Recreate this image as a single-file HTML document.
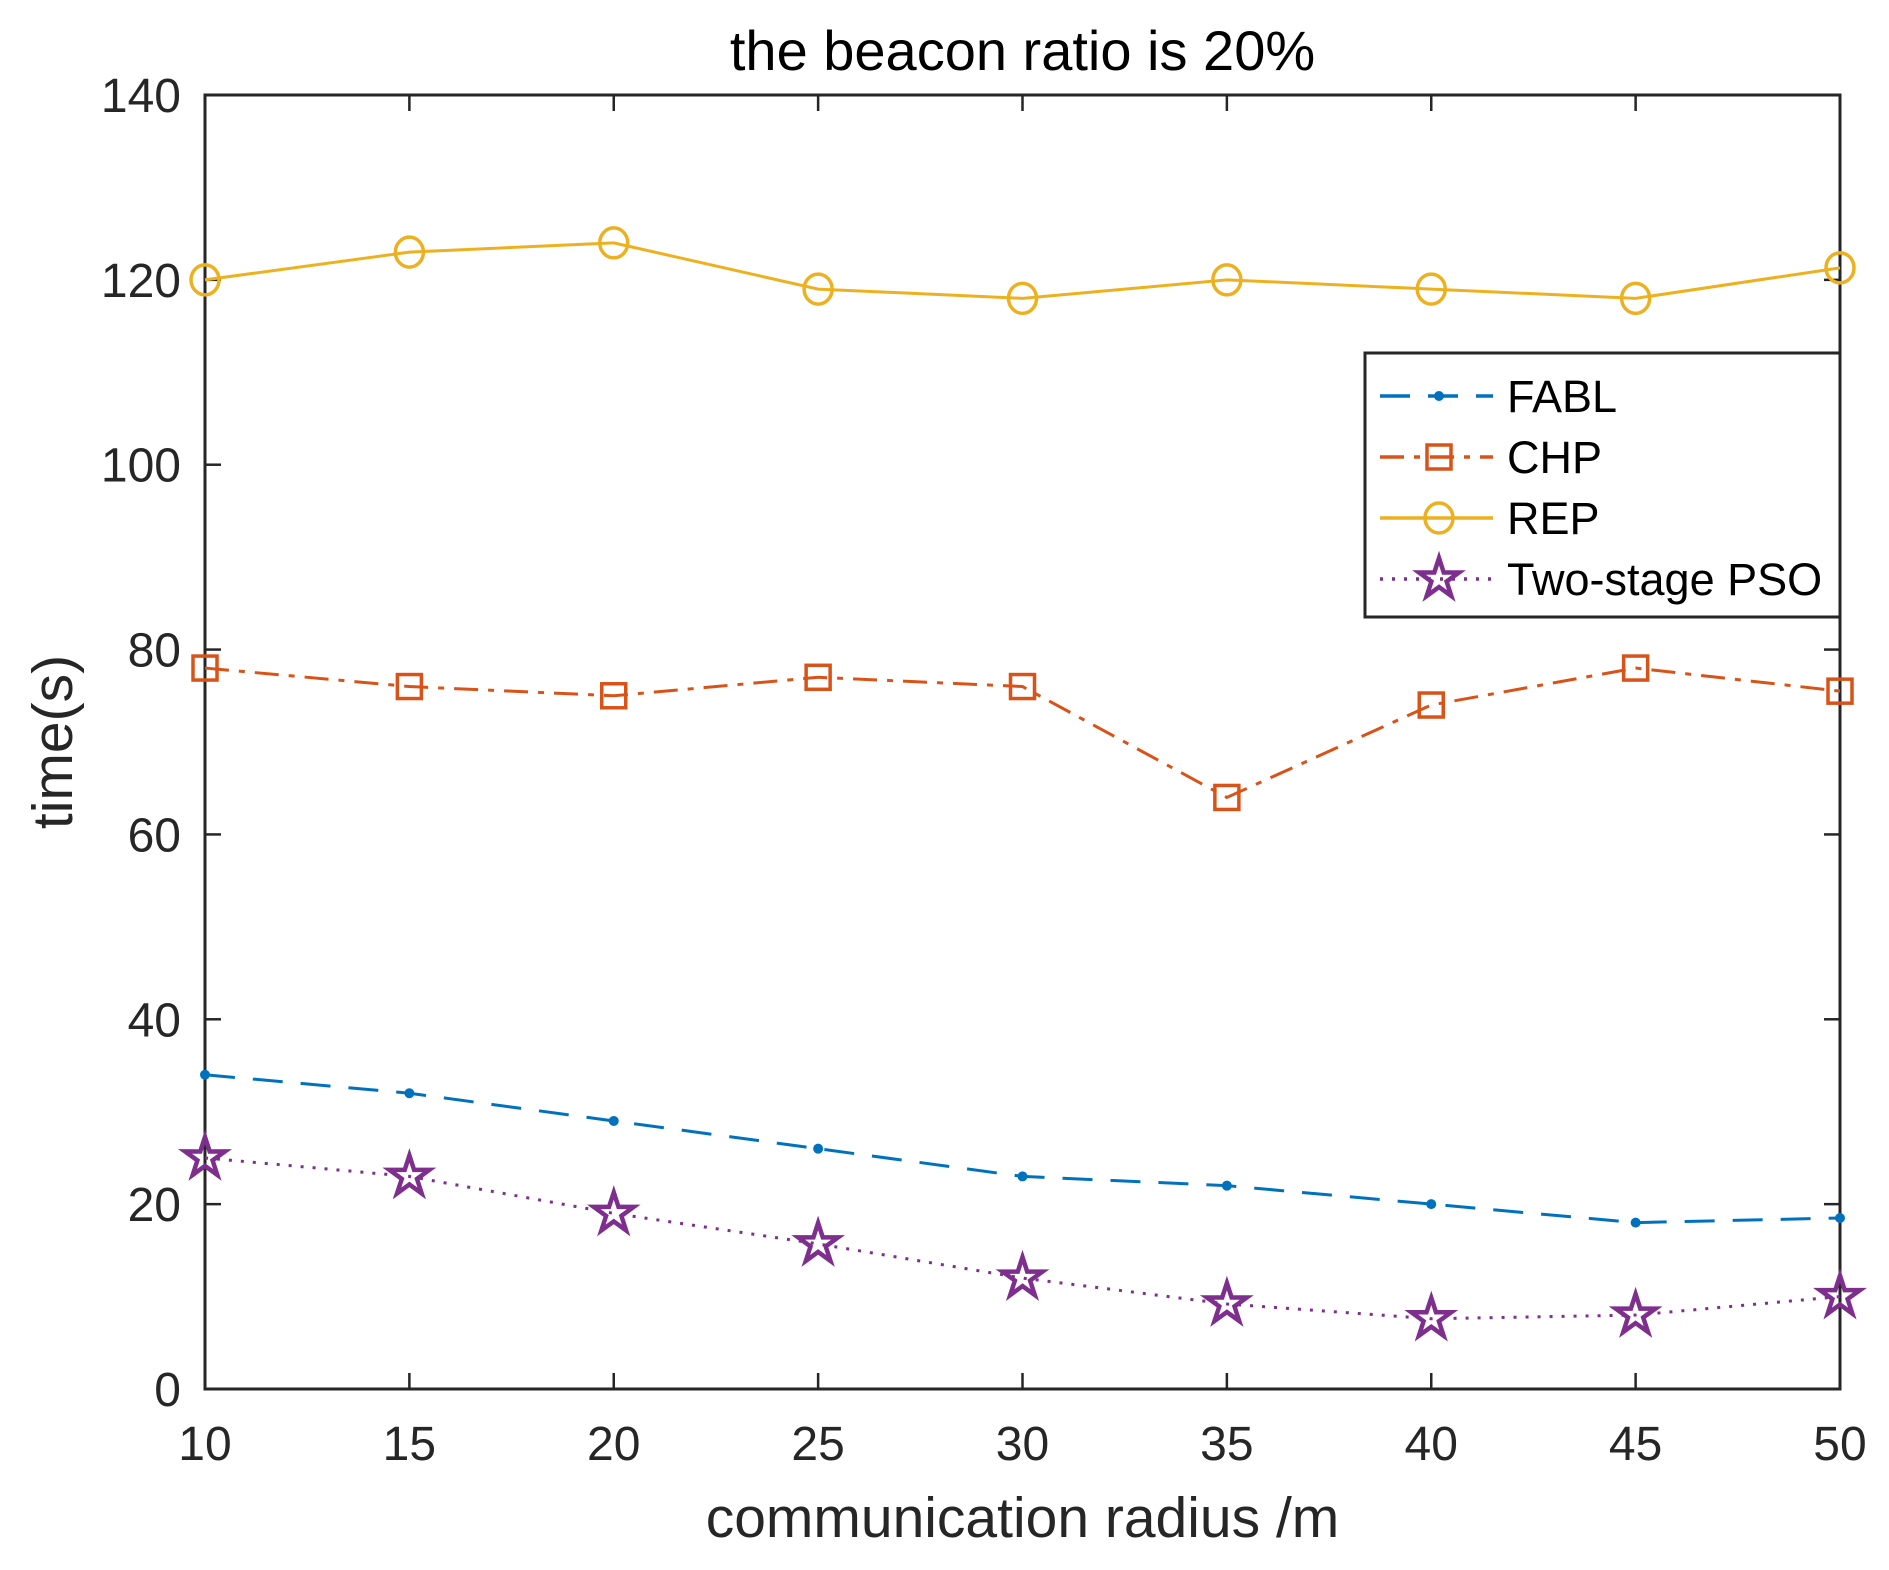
<!DOCTYPE html>
<html><head><meta charset="utf-8"><style>
html,body{margin:0;padding:0;background:#fff;}
svg{display:block;font-family:"Liberation Sans",Arial,sans-serif;}
</style></head><body>
<svg id="chart" width="1889" height="1570" viewBox="0 0 1889 1570" xmlns="http://www.w3.org/2000/svg"></svg>
<script>
const xValues=[10,15,20,25,30,35,40,45,50];
const fablValues=[34,32,29,26,23,22,20,18,18.5];
const chpValues=[78,76,75,77,76,64,74,78,75.5];
const repValues=[120,123,124,119,118,120,119,118,121.3];
const psoValues=[25,23,19,15.7,12,9.2,7.6,8,10];
const xTicks=[10,15,20,25,30,35,40,45,50];
const yTicks=[0,20,40,60,80,100,120,140];
const seriesNames=["FABL","CHP","REP","Two-stage PSO"];

const L=205,R=1840,T=95,B=1389;
const sx=v=>L+(v-10)/40*(R-L);
const sy=v=>B-v/140*(B-T);
const svg=document.getElementById('chart');
const NS='http://www.w3.org/2000/svg';
function mk(tag,attrs,parent){const e=document.createElementNS(NS,tag);for(const k in attrs)e.setAttribute(k,attrs[k]);(parent||svg).appendChild(e);return e;}

const box=mk('rect',{x:L,y:T,width:R-L,height:B-T,fill:'none',stroke:'#262626','stroke-width':3});


const xt=mk('g',{});


xTicks.forEach(t=>{
  mk('line',{x1:sx(t),x2:sx(t),y1:B,y2:B-16,stroke:'#262626','stroke-width':2.5},xt);
  mk('line',{x1:sx(t),x2:sx(t),y1:T,y2:T+16,stroke:'#262626','stroke-width':2.5},xt);
  const tx=mk('text',{x:sx(t),y:B+71,'text-anchor':'middle','font-size':48,fill:'#262626'},xt);
  tx.textContent=t;
  
  
});
const yt=mk('g',{});


yTicks.forEach(t=>{
  mk('line',{x1:L,x2:L+16,y1:sy(t),y2:sy(t),stroke:'#262626','stroke-width':2.5},yt);
  mk('line',{x1:R,x2:R-16,y1:sy(t),y2:sy(t),stroke:'#262626','stroke-width':2.5},yt);
  const tx=mk('text',{x:L-24,y:sy(t)+17,'text-anchor':'end','font-size':48,fill:'#262626'},yt);
  tx.textContent=t;
  
  
});
const title=mk('text',{x:(L+R)/2,y:70,'text-anchor':'middle','font-size':56,fill:'#000'});
title.textContent='the beacon ratio is 20%';


const xl=mk('text',{x:(L+R)/2,y:1537,'text-anchor':'middle','font-size':57,fill:'#262626'});
xl.textContent='communication radius /m';


const yl=mk('text',{x:0,y:0,'text-anchor':'middle','font-size':57,fill:'#262626',transform:`translate(72,${(T+B)/2}) rotate(-90)`});
yl.textContent='time(s)';



const colors=['#0072BD','#D95319','#EDB120','#7E2F8E'];
const dashes=['30,18','24,10,6,10','none','3,9'];
function marker(kind,x,y,c,g){
  if(kind==0) return mk('circle',{cx:x,cy:y,r:5,fill:c},g);
  if(kind==1) return mk('rect',{x:x-12,y:y-12,width:24,height:24,fill:'none',stroke:c,'stroke-width':3.5},g);
  if(kind==2) return mk('ellipse',{cx:x,cy:y,rx:14,ry:15,fill:'none',stroke:c,'stroke-width':3.5},g);
  let p=[];for(let i=0;i<10;i++){const r=i%2?8:21;const a=-Math.PI/2+i*Math.PI/5;p.push((x+r*Math.cos(a)).toFixed(1)+','+(y+r*Math.sin(a)).toFixed(1));}
  return mk('polygon',{points:p.join(' '),fill:'none',stroke:c,'stroke-width':4.5},g);
}
const data=[fablValues,chpValues,repValues,psoValues];
const sname=['fabl','chp','rep','pso'];
data.forEach((vals,k)=>{
  const g=mk('g',{});
  
  
  const pts=vals.map((v,i)=>sx(xValues[i])+','+sy(v)).join(' ');
  mk('polyline',{points:pts,fill:'none',stroke:colors[k],'stroke-width':3,'stroke-dasharray':dashes[k]},g);
  vals.forEach((v,i)=>{
    const m=marker(k,sx(xValues[i]),sy(v),colors[k],g);
    
    
  });
});
const lg=mk('g',{});


mk('rect',{x:1365,y:353,width:475,height:264,fill:'#fff',stroke:'#262626','stroke-width':3},lg);
const ly=[396,457,518,579];
seriesNames.forEach((n,k)=>{
  const e=mk('g',{},lg);
  
  
  mk('line',{x1:1380,x2:1493,y1:ly[k],y2:ly[k],stroke:colors[k],'stroke-width':3.5,'stroke-dasharray':dashes[k]},e);
  marker(k,1439,ly[k],colors[k],e);
  const t=mk('text',{x:1507,y:ly[k]+16,'font-size':45,fill:'#000'},e);
  t.textContent=n;
});
</script>
</body></html>
